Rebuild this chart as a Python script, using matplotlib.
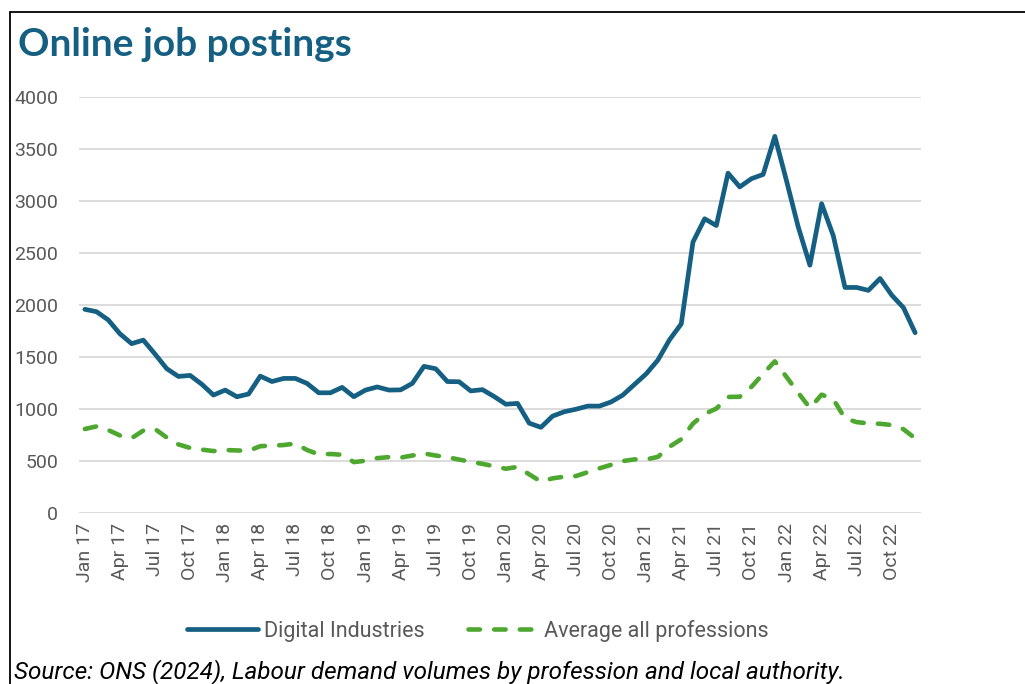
import matplotlib
matplotlib.use("Agg")
import matplotlib.pyplot as plt
from matplotlib.patches import Rectangle
import numpy as np

# Monthly online job postings, Jan 2017 - Dec 2022
months = [f"{m} {y}" for y in range(17, 23)
          for m in ["Jan", "Feb", "Mar", "Apr", "May", "Jun",
                    "Jul", "Aug", "Sep", "Oct", "Nov", "Dec"]]

digital = [1960, 1937, 1858, 1725, 1630, 1664, 1530, 1390, 1315, 1325, 1240, 1136,
           1184, 1120, 1146, 1318, 1266, 1296, 1296, 1248, 1158, 1158, 1210, 1120,
           1184, 1214, 1184, 1186, 1248, 1412, 1389, 1266, 1264, 1176, 1188, 1122,
           1048, 1056, 866, 826, 934, 976, 1000, 1030, 1030, 1070, 1136, 1238,
           1340, 1472, 1668, 1820, 2606, 2830, 2765, 3268, 3136, 3215, 3256, 3622,
           3195, 2752, 2384, 2975, 2667, 2170, 2170, 2142, 2256, 2096, 1976, 1735]

average = [810, 835, 800, 748, 722, 795, 810, 728, 662, 628, 612, 598,
           608, 604, 600, 645, 650, 656, 670, 608, 566, 570, 562, 492,
           505, 530, 540, 535, 555, 575, 555, 540, 516, 495, 475, 452,
           428, 446, 374, 305, 336, 352, 358, 395, 432, 466, 502, 518,
           518, 542, 640, 712, 862, 955, 1006, 1118, 1120, 1215, 1340, 1460,
           1310, 1158, 1012, 1140, 1096, 912, 876, 864, 860, 848, 808, 720]

tick_labels = months[::3]

blue = "#156082"
green = "#4EA72E"
grey = "#595959"

plt.rcParams["font.family"] = ["Roboto", "DejaVu Sans"]

fig = plt.figure(figsize=(10.25, 6.84), dpi=100)
ax = fig.add_axes([79 / 1025, 1 - 513.3 / 684, 842 / 1025, 416.3 / 684])

x = np.arange(len(months))
ax.plot(x, digital, color=blue, lw=3.4, solid_capstyle="round",
        solid_joinstyle="round", label="Digital Industries", zorder=3)
ax.plot(x, average, color=green, lw=3.3, dashes=(2.5, 3.1),
        dash_capstyle="round", dash_joinstyle="round",
        label="Average all professions", zorder=3)

ax.set_xlim(-0.5, len(months) - 0.5)
ax.set_ylim(0, 4000)
ax.set_yticks(range(0, 4001, 500))
ax.set_xticks(x[::3])
ax.set_xticklabels(tick_labels, rotation=90, fontsize=14, color=grey)
ax.tick_params(axis="y", labelsize=14, colors=grey, length=0, pad=15)
ax.tick_params(axis="x", length=0, pad=7)
ax.grid(axis="y", color="#d9d9d9", lw=1.3)
ax.set_axisbelow(True)
for s in ax.spines.values():
    s.set_visible(False)

fig.text(18 / 1025, 1 - 45 / 684, "Online job postings", fontsize=28,
         fontweight="bold", color=blue, family=["Lato", "DejaVu Sans"],
         va="center", ha="left")

fig.legend(loc="center", bbox_to_anchor=(478 / 1025, 1 - 631 / 684), ncol=2,
           frameon=False, fontsize=15.5, handlelength=3.3, columnspacing=2.0,
           handletextpad=0.25, labelcolor=grey)

fig.text(14 / 1025, 1 - 672 / 684,
         "Source: ONS (2024), Labour demand volumes by profession and local authority.",
         fontsize=17.5, style="italic", color="black", va="center", ha="left")

# thin frame round the panel
fig.patches.append(Rectangle((10 / 1025, -0.01), 1.2, 1 - 12 / 684 + 0.01,
                             transform=fig.transFigure, fill=False,
                             ec="black", lw=1.3))

fig.savefig("out.png", dpi=100)
